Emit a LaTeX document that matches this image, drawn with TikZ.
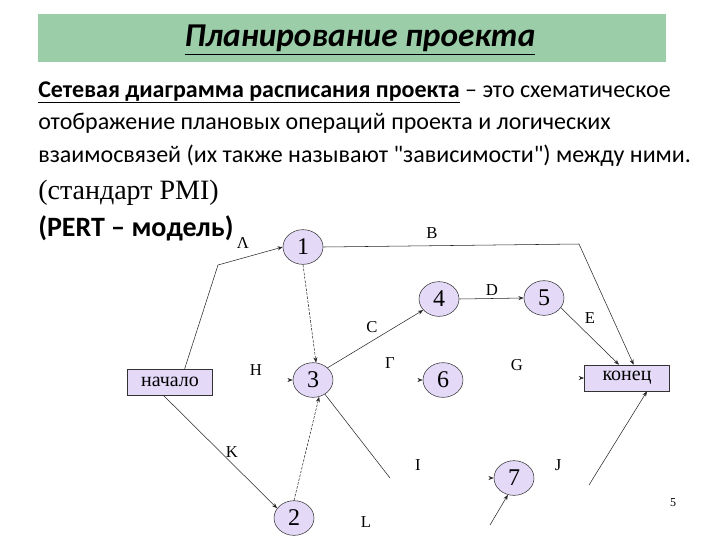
\documentclass[tikz,border=0pt]{standalone}
\usepackage{fontspec}
\setmainfont{Carlito}[Ligatures=TeXOff]
\newfontfamily\timesfont{Liberation Serif}
\usetikzlibrary{shapes.geometric,arrows.meta}
\definecolor{barGreen}{RGB}{155,205,168}
\definecolor{evFill}{RGB}{228,218,248}
\tikzset{
	event/.style={ellipse, draw=black!80, fill=evFill, minimum width=30pt, minimum height=26pt, inner sep=0pt, font=\timesfont\fontsize{18}{18}\selectfont},
	term/.style={rectangle, draw=black!80, fill=evFill, minimum width=64pt, minimum height=19.5pt, inner sep=0pt, font=\timesfont\fontsize{15}{15}\selectfont},
	act/.style={font=\timesfont\fontsize{12.5}{12.5}\selectfont},
	arc/.style={thin, black!85, -{Stealth[length=4pt,width=3pt]}},
	body/.style={anchor=base west, inner sep=0pt, font=\fontsize{18}{18}\selectfont},
}
\begin{document}
\begin{tikzpicture}[x=0.75pt, y=-0.75pt]
			\useasboundingbox (0,0) rectangle (720,540);
			\fill[barGreen] (38,14) rectangle (666,62);
			\node (title) at (360,40) {\fontsize{25}{25}\selectfont\bfseries\itshape\underline{Планирование проекта}};
			\node[body] (txt1) at (38,97) {\textbf{\underline{Сетевая диаграмма расписания проекта}} – это схематическое};
			\node[body] (txt2) at (38,129) {отображение плановых операций проекта и логических};
			\node[body] (txt3) at (38,162) {взаимосвязей (их также называют "зависимости") между ними.};
			\node[body, font=\timesfont\fontsize{21}{21}\selectfont] (pmi) at (38,199) {(стандарт PMI)};
			\node[body, font=\fontsize{21}{21}\selectfont\bfseries] (pert) at (38,236) {(PERT – модель)};
			% events
			\node[event] (e1) at (303,247) {1};
			\node[event] (e2) at (294,518) {2};
			\node[event] (e3) at (313,380) {3};
			\node[event] (e4) at (439,299) {4};
			\node[event] (e5) at (544,298) {5};
			\node[event] (e6) at (443,380) {6};
			\node[event] (e7) at (514,478) {7};
			\node[term] (start) at (170,382) {начало};
			\node[term] (finish) at (627,378) {конец};
			% bends and loose ends
			\coordinate (bendA) at (218,265);
			\coordinate (bendB) at (579,244);
			\coordinate (endI) at (390,478);
			\coordinate (begJ) at (589,485);
			\coordinate (beg7) at (490,525);
			% activities
			\draw[arc] ([xshift=11pt]start.north) -- (bendA) -- (e1.west);
			\draw[arc] (e1.east) -- (bendB) -- ([xshift=5pt]finish.north);
			\draw[arc, dashed, dash pattern=on 2pt off 1pt] (e1.south) -- (e3.80);
			\draw[arc] (e3.40) -- (e4.215);
			\draw[arc] (e4.east) -- (e5.west);
			\draw[arc] (e5.330) -- ([xshift=-6pt]finish.north);
			\draw[arc] ([xshift=-5pt]start.south) -- (e2.150);
			\draw[arc, dashed, dash pattern=on 2pt off 1pt] (e2.north) -- (e3.290);
			\draw[thin, black!85] (e3.310) -- (endI);
			\draw[arc] (begJ) -- ([xshift=15pt]finish.south);
			\draw[arc] (beg7) -- (e7.250);
			%\draw stubs with only the tip left
			\draw[arc] ([xshift=-3pt]e3.west) -- (e3.west);
			\draw[arc] ([xshift=-3pt]e6.west) -- (e6.west);
			\draw[arc] ([xshift=-3pt]e7.west) -- (e7.west);
			\draw[arc] ([xshift=-3pt]finish.west) -- (finish.west);
			% labels
			\node[act] (lA) at (243,243) {Λ};
			\node[act] (lB) at (432,233) {B};
			\node[act] (lC) at (372,327) {C};
			\node[act] (lD) at (492,290) {D};
			\node[act] (lE) at (590,318) {E};
			\node[act] (lF) at (390,363) {Г};
			\node[act] (lG) at (517,365) {G};
			\node[act] (lH) at (256,370) {H};
			\node[act] (lI) at (418,465) {I};
			\node[act] (lJ) at (558,465) {J};
			\node[act] (lK) at (232,452) {K};
			\node[act] (lL) at (366,522) {L};
			\node[font=\timesfont\fontsize{9}{9}\selectfont] (page) at (673,503) {5};
\end{tikzpicture}
\end{document}
